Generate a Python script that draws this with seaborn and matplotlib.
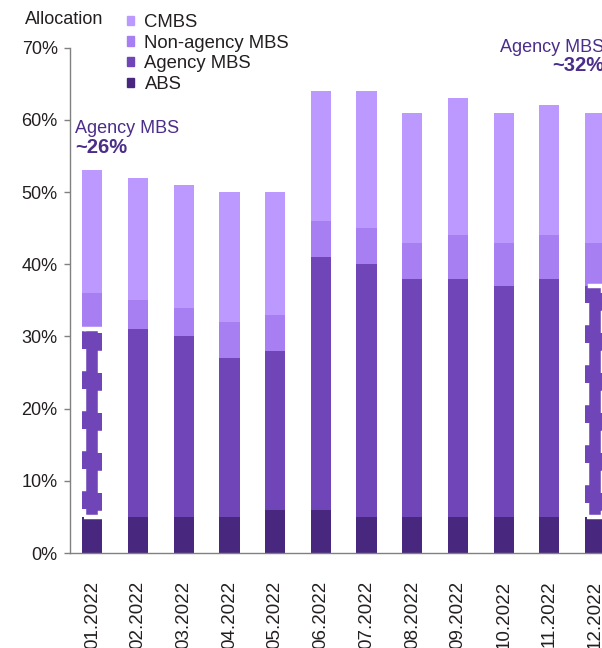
import matplotlib.pyplot as plt
import numpy as np
import pandas as pd
import seaborn as sns
from matplotlib.patches import Patch, Rectangle

months = ["01.2022", "02.2022", "03.2022", "04.2022", "05.2022", "06.2022",
          "07.2022", "08.2022", "09.2022", "10.2022", "11.2022", "12.2022"]
abs_share = [5, 5, 5, 5, 6, 6, 5, 5, 5, 5, 5, 5]
agency_mbs = [26, 26, 25, 22, 22, 35, 35, 33, 33, 32, 33, 32]
non_agency_mbs = [5, 4, 4, 5, 5, 5, 5, 5, 6, 6, 6, 6]
cmbs = [17, 17, 17, 18, 17, 18, 19, 18, 19, 18, 18, 18]
yticks = [0, 10, 20, 30, 40, 50, 60, 70]

c_cmbs = "#bb99ff"
c_nonag = "#a87ff2"
c_agency = "#6f45b8"
c_abs = "#48287e"
c_note = "#4b2d8a"
c_text = "#231f20"

sns.set_style("white")
plt.rcParams["font.family"] = ["Liberation Sans", "DejaVu Sans"]
plt.rcParams["font.size"] = 13

df = pd.DataFrame({"month": months, "abs": abs_share, "agency": agency_mbs,
                   "nonag": non_agency_mbs, "cmbs": cmbs})
df["top_abs"] = df["abs"]
df["top_agency"] = df["top_abs"] + df["agency"]
df["top_nonag"] = df["top_agency"] + df["nonag"]
df["top_cmbs"] = df["top_nonag"] + df["cmbs"]

fig = plt.figure(figsize=(6.02, 6.48), dpi=100)
ax = fig.add_axes([69.5 / 602, 95 / 648, 548.4 / 602, 505.3 / 648])

# stacked bars: draw cumulative tops from the highest layer down
for col, color in [("top_cmbs", c_cmbs), ("top_nonag", c_nonag),
                   ("top_agency", c_agency), ("top_abs", c_abs)]:
    sns.barplot(data=df, x="month", y=col, color=color, width=0.44,
                saturation=1, errorbar=None, linewidth=0, ax=ax)

# dashed white outline around the agency segment of first and last bar
for i in (0, len(months) - 1):
    ax.add_patch(Rectangle((i - 0.175, abs_share[i]), 0.34, agency_mbs[i],
                           fill=False, edgecolor="white", lw=3.2,
                           linestyle=(0, (5, 4)), zorder=5))

ax.set_xlim(-0.5, len(months) - 0.5)
ax.set_ylim(0, 70)
ax.set_yticks(yticks)
ax.set_yticklabels([f"{v}%" for v in yticks])
ax.set_xticks(range(len(months)))
ax.set_xticklabels(months, rotation=90, va="top", ha="center")
ax.set_xticks(np.arange(-0.5, len(months), 1), minor=True)
ax.tick_params(axis="x", which="major", length=0, pad=20, colors=c_text, labelsize=13.5)
ax.tick_params(axis="x", which="minor", length=4, width=1, color="#808080", direction="out")
ax.tick_params(axis="y", length=4.5, width=1, color="#808080", direction="out",
               pad=4, labelcolor=c_text, labelsize=13, left=True)
ax.set_xlabel("")
ax.set_ylabel("")
sns.despine(ax=ax)
for s in ("left", "bottom"):
    ax.spines[s].set_color("#808080")
    ax.spines[s].set_linewidth(1)

fig.text(25 / 602, 1 - 20 / 648, "Allocation", ha="left", va="center",
         fontsize=13, color=c_text)

handles = [Patch(color=c_cmbs, label="CMBS"),
           Patch(color=c_nonag, label="Non-agency MBS"),
           Patch(color=c_agency, label="Agency MBS"),
           Patch(color=c_abs, label="ABS")]
fig.legend(handles=handles, loc="upper left", bbox_to_anchor=(114 / 602, 1 - 1 / 648),
           frameon=False, handlelength=0.4, handleheight=0.4, handletextpad=0.55,
           labelspacing=0.2, fontsize=13.3, borderpad=0.2, labelcolor=c_text)

fig.text(75 / 602, 1 - 133 / 648, "Agency MBS", ha="left", va="baseline",
         fontsize=13, color=c_note)
fig.text(75 / 602, 1 - 153 / 648, f"~{agency_mbs[0]}%", ha="left", va="baseline",
         fontsize=14.5, color=c_note, fontweight="bold")
fig.text(500 / 602, 1 - 52 / 648, "Agency MBS", ha="left", va="baseline",
         fontsize=13, color=c_note)
fig.text(552 / 602, 1 - 71 / 648, f"~{agency_mbs[-1]}%", ha="left", va="baseline",
         fontsize=14.5, color=c_note, fontweight="bold")

fig.savefig("out.png", dpi=100)
